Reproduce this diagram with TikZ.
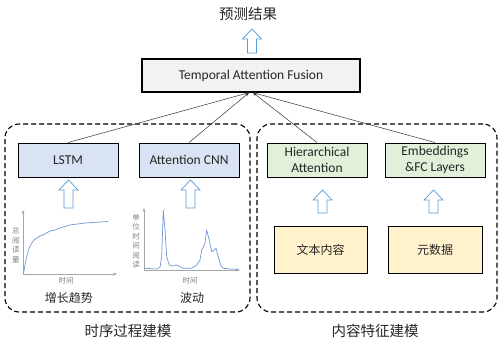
\documentclass[tikz,border=0pt]{standalone}
\usepackage{fontspec}
\setmainfont{Carlito}
\newfontfamily\cjk{Noto Sans CJK SC}
\usetikzlibrary{arrows.meta, positioning}

\definecolor{boxblue}{HTML}{DAE3F3}
\definecolor{boxgreen}{HTML}{E2F0D9}
\definecolor{boxyellow}{HTML}{FFF2CC}
\definecolor{boxgray}{HTML}{F2F2F2}
\definecolor{arrowblue}{HTML}{5B9BD5}
\definecolor{curveblue}{HTML}{6F97D8}
\definecolor{axisgray}{HTML}{A6A6A6}

\tikzset{
    hollowup/.pic={
        \draw[arrowblue, fill=white, line width=0.7pt, line join=miter]
            (-4.5,0) -- (-4.5,-#1+10) -- (-9.5,-#1+10) -- (0,-#1) -- (9.5,-#1+10) -- (4.5,-#1+10) -- (4.5,0) -- cycle;
    }
}

\begin{document}
\begin{tikzpicture}[x=1pt, y=-1pt,
        box/.style={rectangle, draw, line width=0.9pt, minimum width=100pt, minimum height=34pt, align=center, inner sep=0pt, text=black!85, font=\fontsize{13.5}{16.5}\selectfont},
        group/.style={draw, line width=1.1pt, rounded corners=14pt, dash pattern=on 5pt off 3pt, inner sep=0pt},
        arr/.style={-{Stealth[length=4pt, width=3pt]}, line width=0.5pt, black!80},
        axis/.style={-{Stealth[length=4pt, width=3pt]}, axisgray, line width=0.6pt},
        curve/.style={curveblue, line width=0.7pt, line join=round},
        small/.style={font=\cjk\fontsize{7.5}{9.5}\selectfont, text=black!50, align=center, inner sep=0pt},
        cn/.style={font=\cjk\fontsize{12}{14}\selectfont, text=black!85},
        big/.style={font=\cjk\fontsize{14.5}{16}\selectfont, text=black!85}
        ]
        \useasboundingbox (0,0) rectangle (504,345);
        % output
        \node[big] (result) at (248,14) {预测结果};
        \node[box, fill=boxgray, minimum width=218pt, minimum height=33pt, line width=1.3pt] (fusion) at (251,75.5) {Temporal Attention Fusion};
        \pic at (252,53) {hollowup=24};
        % groups
        \node[group, minimum width=245pt, minimum height=188pt] (timegrp) at (127.5,218) {};
        \node[group, minimum width=240pt, minimum height=188pt] (contgrp) at (377,218) {};
        \node[big] (timelbl) at (128,331) {时序过程建模};
        \node[big] (contlbl) at (375,331) {内容特征建模};
        % models
        \node[box, fill=boxblue] (lstm) at (68,160) {LSTM};
        \node[box, fill=boxblue] (attcnn) at (189,160) {Attention CNN};
        \node[box, fill=boxgreen] (hier) at (317,160) {Hierarchical\\Attention};
        \node[box, fill=boxgreen] (embed) at (435,160) {Embeddings\\\&FC Layers};
        % inputs
        \node[box, fill=boxyellow, minimum width=93pt, minimum height=47pt, font=\cjk\fontsize{12}{14}\selectfont] (text) at (320.5,249.5) {文本内容};
        \node[box, fill=boxyellow, minimum width=94pt, minimum height=47pt, font=\cjk\fontsize{12}{14}\selectfont] (meta) at (435,249.5) {元数据};
        \pic at (68.5,208) {hollowup=28};
        \pic at (190.5,208) {hollowup=28};
        \pic at (322.5,213) {hollowup=23};
        \pic at (433.5,213) {hollowup=23};
        % trend chart
        \coordinate (o1) at (23,274);
        \draw[axis] (o1) -- (23,210);
        \draw[axis] (o1) -- (117,274);
        \draw[curve] plot coordinates {(23.5,274) (25,265) (26.5,258) (28.5,250) (31,244) (34,240) (37,238) (40,236) (45,234) (50,231) (55,230) (60,228) (70,225) (85,223) (100,222) (108,221.5)};
        \node[small] (ylbl1) at (16,245) {总\\阅\\读\\量};
        \node[small] (xlbl1) at (66,281) {时间};
        \node[cn] (trend) at (69,298) {增长趋势};
        % fluctuation chart
        \coordinate (o2) at (144,270);
        \draw[axis] (o2) -- (144,208);
        \draw[axis] (o2) -- (240,270);
        \draw[curve] plot coordinates {(145,268.3) (156.7,269) (160,267.3) (161.7,256.7) (163.3,210) (165,230) (166.7,256.7) (169.3,265) (173.3,266) (176.7,265) (183.3,268.3) (191.7,268.3) (196.7,265) (200,260) (201.7,250) (205,243.3) (206.7,230) (209.3,240) (211.7,251.7) (214,250) (216,248.3) (218.3,256.7) (220.7,265) (223.3,268.3) (230,269) (238.3,269.3)};
        \node[small] (ylbl2) at (136,241) {单\\位\\时\\间\\阅\\读};
        \node[small] (xlbl2) at (190,281) {时间};
        \node[cn] (wave) at (192,298) {波动};
        % connections
        \draw[arr] (lstm.north) -- ([xshift=-2pt]fusion.south);
        \draw[arr] (attcnn.north) -- ([xshift=-2pt]fusion.south);
        \draw[arr] (hier.north) -- ([xshift=2pt]fusion.south);
        \draw[arr] (embed.north) -- ([xshift=2pt]fusion.south);
\end{tikzpicture}
\end{document}
